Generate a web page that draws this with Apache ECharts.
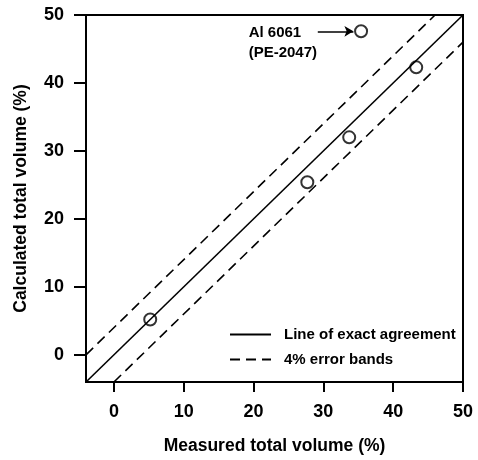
<!DOCTYPE html>
<html>
<head>
<meta charset="utf-8">
<script src="https://cdn.jsdelivr.net/npm/echarts@6/dist/echarts.min.js"></script>
<style>
  html, body { margin: 0; padding: 0; background: #fff; }
  #chart { width: 478px; height: 460px; }
</style>
</head>
<body>
<div id="chart"></div>
<script>
// tick labels
const xTicks = [0, 10, 20, 30, 40, 50];
const yTicks = [0, 10, 20, 30, 40, 50];

// measured vs calculated points
const measured = [5.2, 27.7, 33.7, 43.3, 35.4];
const calculated = [5.2, 25.4, 32.0, 42.3, 47.6];

// reference lines
const exactLine = [[-4, -4], [50, 50]];
const upperBand = [[-4, 0], [46, 50]];
const lowerBand = [[0, -4], [50, 46]];

// annotation for the outlier
const noteText = 'Al 6061\n(PE-2047)';
const notePos = [19.3, 45.9];
const arrowFrom = [29.2, 47.6];
const arrowTo = [34.3, 47.6];

const font = "'Liberation Sans', Arial, sans-serif";
const chart = echarts.init(document.getElementById('chart'));

const axisCommon = {
    type: 'value',
    min: -4,
    max: 50,
    splitLine: { show: false },
    axisLine: { show: true, onZero: false, lineStyle: { color: '#000', width: 2 } },
    nameLocation: 'middle',
    nameTextStyle: { color: '#000', fontSize: 17.5, fontWeight: 'bold', fontFamily: font }
};

chart.setOption({
    animation: false,
    grid: {
        left: 86, right: 15, top: 15, bottom: 72,
        show: true, borderColor: '#000', borderWidth: 2
    },
    legend: {
        left: 229,
        top: 327,
        padding: 0,
        orient: 'vertical',
        itemWidth: 41,
        itemHeight: 14,
        itemGap: 10,
        itemStyle: { opacity: 0 },
        textStyle: { color: '#000', fontSize: 15, fontWeight: 'bold', fontFamily: font, padding: [0, 0, 0, 8] },
        data: ['Line of exact agreement', '4% error bands']
    },
    xAxis: Object.assign({}, axisCommon, {
        name: 'Measured total volume (%)',
        nameGap: 55,
        axisTick: { customValues: xTicks, length: 10, lineStyle: { color: '#000', width: 2 } },
        axisLabel: { customValues: xTicks, margin: 21, color: '#000', fontSize: 18, fontWeight: 'bold', fontFamily: font }
    }),
    yAxis: Object.assign({}, axisCommon, {
        name: 'Calculated total volume (%)',
        nameGap: 56,
        axisTick: { customValues: yTicks, length: 12, lineStyle: { color: '#000', width: 2 } },
        axisLabel: { customValues: yTicks, margin: 22, color: '#000', fontSize: 18, fontWeight: 'bold', fontFamily: font }
    }),
    series: [
        {
            name: 'Line of exact agreement',
            type: 'line',
            data: exactLine,
            symbol: 'none',
            lineStyle: { color: '#000', width: 1.6 },
            itemStyle: { color: '#000' }
        },
        {
            name: '4% error bands',
            type: 'line',
            data: upperBand,
            symbol: 'none',
            lineStyle: { color: '#000', width: 1.6, type: [10, 6] },
            itemStyle: { color: '#000' }
        },
        {
            name: '4% error bands',
            type: 'line',
            data: lowerBand,
            symbol: 'none',
            lineStyle: { color: '#000', width: 1.6, type: [10, 6] },
            itemStyle: { color: '#000' }
        },
        {
            name: 'data',
            type: 'scatter',
            data: measured.map((m, i) => [m, calculated[i]]),
            symbol: 'circle',
            symbolSize: 12,
            itemStyle: { color: '#fff', borderColor: '#000', borderWidth: 2 },
            markLine: {
                silent: true,
                symbol: ['none', 'arrow'],
                symbolSize: [8, 9],
                label: { show: false },
                lineStyle: { color: '#000', width: 1.6, type: 'solid' },
                data: [[{ coord: arrowFrom }, { coord: arrowTo }]]
            },
            markPoint: {
                silent: true,
                symbol: 'circle',
                symbolSize: 0,
                data: [{ coord: notePos }],
                label: {
                    show: true,
                    position: 'right',
                    distance: 0,
                    formatter: noteText,
                    color: '#000',
                    fontSize: 15,
                    lineHeight: 20,
                    fontWeight: 'bold',
                    fontFamily: font
                }
            }
        }
    ]
});
</script>
</body>
</html>
